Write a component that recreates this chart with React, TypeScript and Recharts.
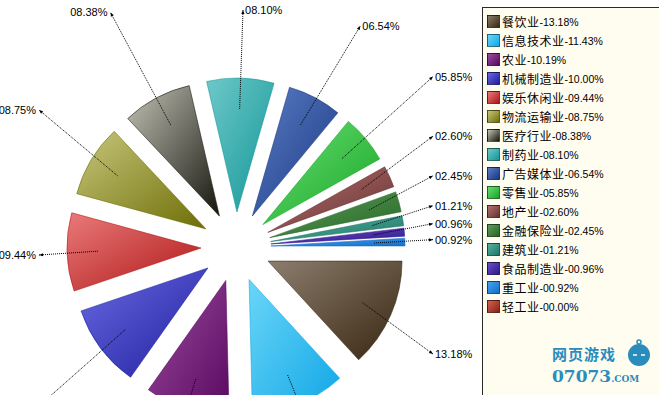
import { PieChart, Pie, Cell, Sector, Legend } from 'recharts';

const categories = [
  '餐饮业', '信息技术业', '农业', '机械制造业', '娱乐休闲业', '物流运输业', '医疗行业', '制药业',
  '广告媒体业', '零售业', '地产业', '金融保险业', '建筑业', '食品制造业', '重工业', '轻工业',
];
const shares = [13.18, 11.43, 10.19, 10.0, 9.44, 8.75, 8.38, 8.1, 6.54, 5.85, 2.6, 2.45, 1.21, 0.96, 0.92, 0.0];

// light (top-left) and dark (bottom-right) ends of each slice gradient
const lightColors = [
  '#8c7e6e', '#6ad6f8', '#9c4ca0', '#6a6ae2', '#ea7a7a', '#c6c67c', '#c2c2b6', '#6ec8c8',
  '#5c7ec6', '#6ade74', '#b27272', '#5e9e5a', '#54b2a2', '#6c52c2', '#44a2f2', '#d26252',
];
const darkColors = [
  '#382610', '#10a6e6', '#58085e', '#1e1e9e', '#ae1616', '#6e6e06', '#16160e', '#129698',
  '#183880', '#16a626', '#683030', '#266626', '#1e7666', '#2e168e', '#166ec6', '#882216',
];

const data = categories.map((name, i) => ({ name, value: shares[i] }));

const W = 659;
const H = 395;
const CX = 236;
const CY = 247;
const R = 134;
const EXPLODE = 35;
const LABEL_R = 266;
const RAD = Math.PI / 180;

const fmt = (v: number) => v.toFixed(2).padStart(5, '0') + '%';

// label end points: pushed out along the mid angle, held inside the plot, then spread apart
function layoutLabels() {
  const total = shares.reduce((a, b) => a + b, 0);
  let acc = 0;
  const pts = shares.map((v, i) => {
    const mid = ((acc + v / 2) / total) * 360;
    acc += v;
    const x = CX + LABEL_R * Math.cos(mid * RAD);
    const y = CY + LABEL_R * Math.sin(mid * RAD);
    return { i, x: Math.min(Math.max(x, 39), 433), y: Math.max(y, 10), right: x >= CX };
  });
  [true, false].forEach((side) => {
    const group = pts.filter((p) => p.right === side && shares[p.i] > 0).sort((a, b) => a.y - b.y);
    for (let k = 1; k < group.length; k++) {
      if (group[k].y < group[k - 1].y + 16) group[k].y = group[k - 1].y + 16;
    }
  });
  return pts;
}
const labelPos = layoutLabels();

const ExplodedSlice = (props: any) => {
  const { cx, cy, midAngle, index } = props;
  const dx = EXPLODE * Math.cos(-midAngle * RAD);
  const dy = EXPLODE * Math.sin(-midAngle * RAD);
  return (
    <Sector
      {...props}
      cx={cx + dx}
      cy={cy + dy}
      fill={`url(#slice${index})`}
      stroke={darkColors[index]}
      strokeOpacity={0.55}
      strokeWidth={1}
    />
  );
};

const renderLabel = (props: any) => {
  const { cx, cy, midAngle, outerRadius, index, value } = props;
  if (!value) return null;
  const cos = Math.cos(-midAngle * RAD);
  const sin = Math.sin(-midAngle * RAD);
  const r0 = EXPLODE + outerRadius * 0.77;
  const sx = cx + r0 * cos;
  const sy = cy + r0 * sin;
  const p = labelPos[index];
  const len = Math.hypot(p.x - sx, p.y - sy) || 1;
  const ux = (p.x - sx) / len;
  const uy = (p.y - sy) / len;
  const arrow = [
    [p.x, p.y],
    [p.x - 4 * ux - 1.6 * uy, p.y - 4 * uy + 1.6 * ux],
    [p.x - 4 * ux + 1.6 * uy, p.y - 4 * uy - 1.6 * ux],
  ]
    .map((q) => q.join(','))
    .join(' ');
  // labels that fall below the picture are not drawn (the lines still run off the edge)
  const visible = p.y < H;
  return (
    <g key={`lbl${index}`}>
      <line x1={sx} y1={sy} x2={p.x} y2={p.y} stroke="#000" strokeWidth={1} strokeDasharray="1 1" />
      <polygon points={arrow} fill="#000" />
      {visible && (
        <text
          x={p.x + (p.right ? 2 : -3)}
          y={p.y}
          textAnchor={p.right ? 'start' : 'end'}
          dominantBaseline="central"
          fontSize={11}
          fontFamily="'Liberation Sans', Arial, sans-serif"
          fill="#000"
        >
          {fmt(value)}
        </text>
      )}
    </g>
  );
};

const LegendBox = (props: any) => {
  const items = [...(props.payload || [])].sort(
    (a: any, b: any) => categories.indexOf(a.value) - categories.indexOf(b.value),
  );
  return (
    <div
      style={{
        width: 190,
        height: 400,
        boxSizing: 'border-box',
        border: '1px solid #2a2a2a',
        background: '#fffcf0',
        paddingTop: 4,
      }}
    >
      {items.map((item: any) => {
        const idx = categories.indexOf(item.value);
        return (
          <div key={item.value} style={{ display: 'flex', alignItems: 'center', height: 19, paddingLeft: 4 }}>
            <span
              style={{
                width: 13,
                height: 13,
                boxSizing: 'border-box',
                border: '1px solid rgba(0,0,0,0.45)',
                background: `linear-gradient(135deg, ${lightColors[idx]}, ${darkColors[idx]})`,
                marginRight: 2,
                flex: 'none',
              }}
            />
            <span style={{ fontFamily: "'Noto Sans CJK SC', sans-serif", fontSize: 12, color: '#000', letterSpacing: 0.5 }}>
              {item.value}
            </span>
            <span style={{ fontFamily: "'Liberation Sans', Arial, sans-serif", fontSize: 10.5, color: '#000' }}>
              -{fmt(shares[idx])}
            </span>
          </div>
        );
      })}
    </div>
  );
};

export default function App() {
  return (
    <div
      style={{
        position: 'absolute',
        left: 0,
        top: 0,
        width: W,
        height: H,
        overflow: 'hidden',
        background: '#fff',
      }}
    >
      <PieChart width={W} height={H} margin={{ top: 0, right: 0, bottom: 0, left: 0 }}>
        <defs>
          {lightColors.map((c, i) => (
            <linearGradient key={i} id={`slice${i}`} x1="0" y1="0" x2="1" y2="1">
              <stop offset="0%" stopColor={c} />
              <stop offset="100%" stopColor={darkColors[i]} />
            </linearGradient>
          ))}
        </defs>
        <Pie
          data={data}
          dataKey="value"
          nameKey="name"
          cx={CX}
          cy={CY}
          outerRadius={R}
          startAngle={0}
          endAngle={-360}
          shape={ExplodedSlice}
          label={renderLabel}
          labelLine={false}
          isAnimationActive={false}
        >
          {data.map((d, i) => (
            <Cell key={d.name} fill={`url(#slice${i})`} />
          ))}
        </Pie>
        <Legend
          layout="vertical"
          align="center"
          verticalAlign="middle"
          content={LegendBox}
          wrapperStyle={{ left: 482, top: 7 }}
        />
      </PieChart>
      <div
        style={{
          position: 'absolute',
          left: 552,
          top: 346,
          height: 16,
          lineHeight: '16px',
          fontFamily: "'Noto Sans CJK SC', sans-serif",
          fontWeight: 700,
          fontSize: 15,
          color: '#2a8cbc',
          letterSpacing: 1,
        }}
      >
        网页游戏
      </div>
      <div
        style={{
          position: 'absolute',
          left: 552,
          top: 368,
          height: 17,
          lineHeight: '17px',
          fontFamily: "'DejaVu Serif', serif",
          fontWeight: 700,
          fontSize: 17,
          color: '#2a8cbc',
        }}
      >
        07073<span style={{ fontSize: 9 }}>.COM</span>
      </div>
      <svg style={{ position: 'absolute', left: 625, top: 338 }} width={28} height={30}>
        <circle cx={14} cy={17} r={11} fill="#2a8cbc" />
        <circle cx={14} cy={4} r={2} fill="none" stroke="#2a8cbc" strokeWidth={1.5} />
        <line x1={14} y1={6} x2={14} y2={7} stroke="#2a8cbc" strokeWidth={1.5} />
        <line x1={8} y1={17} x2={12} y2={17} stroke="#fff" strokeWidth={1.5} />
        <line x1={16} y1={17} x2={20} y2={17} stroke="#fff" strokeWidth={1.5} />
      </svg>
    </div>
  );
}
